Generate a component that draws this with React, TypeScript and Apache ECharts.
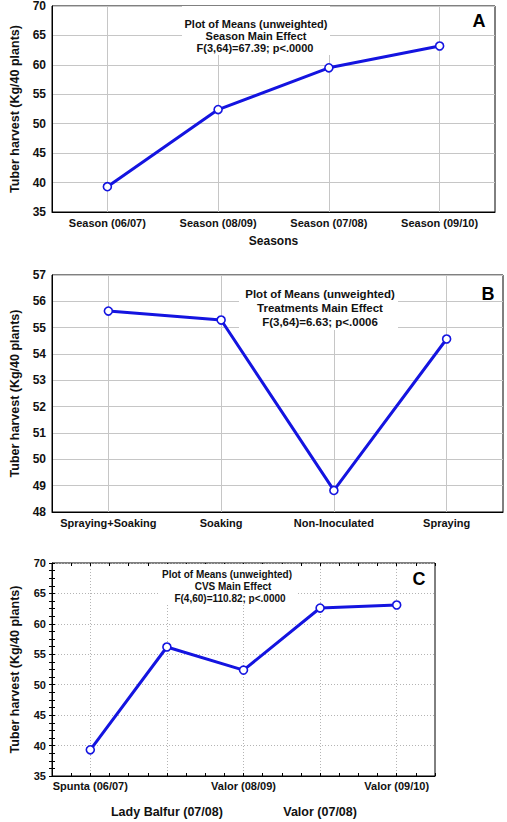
import React, { useEffect, useRef } from "react";
import * as echarts from "echarts";

// ---------- data ----------
const seasonCategories = ["Season (06/07)", "Season (08/09)", "Season (07/08)", "Season (09/10)"];
const seasonMeans = [39.3, 52.4, 59.5, 63.2];

const treatmentCategories = ["Spraying+Soaking", "Soaking", "Non-Inoculated", "Spraying"];
const treatmentMeans = [55.63, 55.29, 48.82, 54.57];

const cvsCategories = ["Spunta (06/07)", "Lady Balfur (07/08)", "Valor (08/09)", "Valor (07/08)", "Valor (09/10)"];
const cvsMeans = [39.3, 56.2, 52.4, 62.6, 63.1];

const notesA = ["Plot of Means (unweighted)", "Season Main Effect", "F(3,64)=67.39; p<.0000"];
const notesB = ["Plot of Means (unweighted)", "Treatments Main Effect", "F(3,64)=6.63; p<.0006"];
const notesC = ["Plot of Means (unweighted)", "CVS Main Effect", "F(4,60)=110.82; p<.0000"];

const yAxisTitle = "Tuber harvest (Kg/40 plants)";
const xAxisTitleA = "Seasons";
const panelLetters = ["A", "B", "C"];

// ---------- styles ----------
const FONT = "Liberation Sans, Arial, Helvetica, sans-serif";
const BLUE = "#1414e0";
const TXT = "#111";

const lineSeries = (data: number[], idx: number) => ({
  type: "line",
  xAxisIndex: idx,
  yAxisIndex: idx,
  data,
  symbol: "circle",
  symbolSize: 8,
  lineStyle: { color: BLUE, width: 3 },
  itemStyle: { color: "#fff", borderColor: BLUE, borderWidth: 1.6 },
  z: 5,
});

const noteGroup = (lines: string[], xs: number[], ys: number[], size: number, box: number[]) => [
  {
    type: "rect",
    shape: { x: box[0], y: box[1], width: box[2], height: box[3] },
    style: { fill: "#fff" },
    z: 50,
  },
  ...lines.map((t, i) => ({
    type: "text",
    x: xs[i],
    y: ys[i],
    z: 51,
    style: {
      text: t,
      fill: TXT,
      fontFamily: FONT,
      fontWeight: "bold",
      fontSize: size,
      align: "center",
      verticalAlign: "middle",
    },
  })),
];

const letter = (t: string, x: number, y: number) => ({
  type: "text",
  x,
  y,
  z: 52,
  style: {
    text: t,
    fill: "#000",
    fontFamily: FONT,
    fontWeight: "bold",
    fontSize: 18,
    align: "center",
    verticalAlign: "middle",
  },
});

export default function App() {
  const ref = useRef<HTMLDivElement>(null);

  useEffect(() => {
    if (!ref.current) return;
    const chart = echarts.init(ref.current, undefined, { renderer: "svg" });

    const solidGrid = { show: true, alignWithLabel: true, lineStyle: { color: "#c6c6c6", width: 1, type: "solid" } };
    const dotGrid = { show: true, alignWithLabel: true, lineStyle: { color: "#b4b4b4", width: 1, type: [1, 2] } };

    const baseLabel = { color: TXT, fontFamily: FONT, fontWeight: "bold" };

    const yAxisCommon = (min: number, max: number, interval: number, gridIndex: number, fontSize: number, splitLine: any) => ({
      type: "value",
      gridIndex,
      min,
      max,
      interval,
      axisLine: { show: true, lineStyle: { color: "#000", width: 1 } },
      axisTick: { show: false },
      axisLabel: { ...baseLabel, fontSize, margin: 6 },
      splitLine,
      name: yAxisTitle,
      nameLocation: "middle",
      nameRotate: 90,
      nameGap: 31,
      nameTextStyle: { ...baseLabel, fontSize: 12.5 },
    });

    const option: any = {
      animation: false,
      backgroundColor: "#fff",
      grid: [
        { left: 46, top: 5, width: 449, height: 207, show: true, borderColor: "#000", borderWidth: 1, backgroundColor: "transparent" },
        { left: 46, top: 275, width: 457, height: 237, show: true, borderColor: "#000", borderWidth: 1, backgroundColor: "transparent" },
        { left: 46, top: 563, width: 389, height: 213, show: true, borderColor: "#000", borderWidth: 1, backgroundColor: "transparent" },
      ],
      xAxis: [
        {
          type: "category",
          gridIndex: 0,
          data: seasonCategories,
          boundaryGap: true,
          axisLine: { show: true, lineStyle: { color: "#000" } },
          axisTick: { show: false },
          axisLabel: { ...baseLabel, fontSize: 11, margin: 5, interval: 0 },
          splitLine: solidGrid,
          name: xAxisTitleA,
          nameLocation: "middle",
          nameGap: 23,
          nameTextStyle: { ...baseLabel, fontSize: 12 },
        },
        {
          type: "category",
          gridIndex: 1,
          data: treatmentCategories,
          boundaryGap: true,
          axisLine: { show: true, lineStyle: { color: "#000" } },
          axisTick: { show: false },
          axisLabel: { ...baseLabel, fontSize: 11, margin: 5, interval: 0 },
          splitLine: solidGrid,
        },
        {
          type: "category",
          gridIndex: 2,
          data: cvsCategories,
          boundaryGap: true,
          axisLine: { show: true, lineStyle: { color: "#000" } },
          axisTick: { show: false },
          axisLabel: {
            ...baseLabel,
            interval: 0,
            margin: 4,
            formatter: (v: string, i: number) => (i % 2 === 0 ? `{a|${v}}` : `{b|${v}}`),
            rich: {
              a: { ...baseLabel, fontSize: 11 },
              b: { ...baseLabel, fontSize: 12.5, padding: [25, 0, 0, 0] },
            },
          },
          splitLine: dotGrid,
        },
        {
          type: "value",
          gridIndex: 2,
          position: "top",
          min: 0,
          max: 5,
          interval: 1,
          axisLine: { show: false },
          axisTick: { show: true, inside: true, length: 3, lineStyle: { color: "#000" } },
          minorTick: { show: true, splitNumber: 4, length: 3, lineStyle: { color: "#000" } },
          axisLabel: { show: false },
          splitLine: { show: false },
        },
        {
          type: "value",
          gridIndex: 2,
          position: "bottom",
          min: 0,
          max: 5,
          interval: 1,
          axisLine: { show: false },
          axisTick: { show: true, inside: true, length: 3, lineStyle: { color: "#000" } },
          minorTick: { show: true, splitNumber: 4, length: 3, lineStyle: { color: "#000" } },
          axisLabel: { show: false },
          splitLine: { show: false },
        },
      ],
      yAxis: [
        yAxisCommon(35, 70, 5, 0, 12, solidGrid),
        yAxisCommon(48, 57, 1, 1, 12, solidGrid),
        {
          ...yAxisCommon(35, 70, 5, 2, 11, dotGrid),
          axisTick: { show: true, inside: true, length: 3, lineStyle: { color: "#000" } },
          minorTick: { show: true, splitNumber: 4, length: 3, lineStyle: { color: "#000" } },
        },
        {
          type: "value",
          gridIndex: 2,
          position: "right",
          min: 35,
          max: 70,
          interval: 5,
          axisLine: { show: false },
          axisTick: { show: true, inside: true, length: 3, lineStyle: { color: "#000" } },
          minorTick: { show: true, splitNumber: 4, length: 3, lineStyle: { color: "#000" } },
          axisLabel: { show: false },
          splitLine: { show: false },
        },
      ],
      series: [lineSeries(seasonMeans, 0), lineSeries(treatmentMeans, 1), lineSeries(cvsMeans, 2)],
      graphic: [
        ...noteGroup(notesA, [256, 256, 255], [24, 36, 48], 11, [182, 6, 148, 49]),
        ...noteGroup(notesB, [320, 320, 320], [294, 307.5, 321.5], 11.5, [239, 276, 159, 54]),
        ...noteGroup(notesC, [227, 233, 230], [574, 586, 598], 10, [160, 564, 137, 41]),
        letter(panelLetters[0], 479, 21),
        letter(panelLetters[1], 488, 294),
        letter(panelLetters[2], 419, 579),
      ],
    };

    chart.setOption(option);
    return () => chart.dispose();
  }, []);

  return (
    <div
      ref={ref}
      style={{ position: "absolute", left: 0, top: 0, width: 507, height: 822, background: "#fff" }}
    />
  );
}
